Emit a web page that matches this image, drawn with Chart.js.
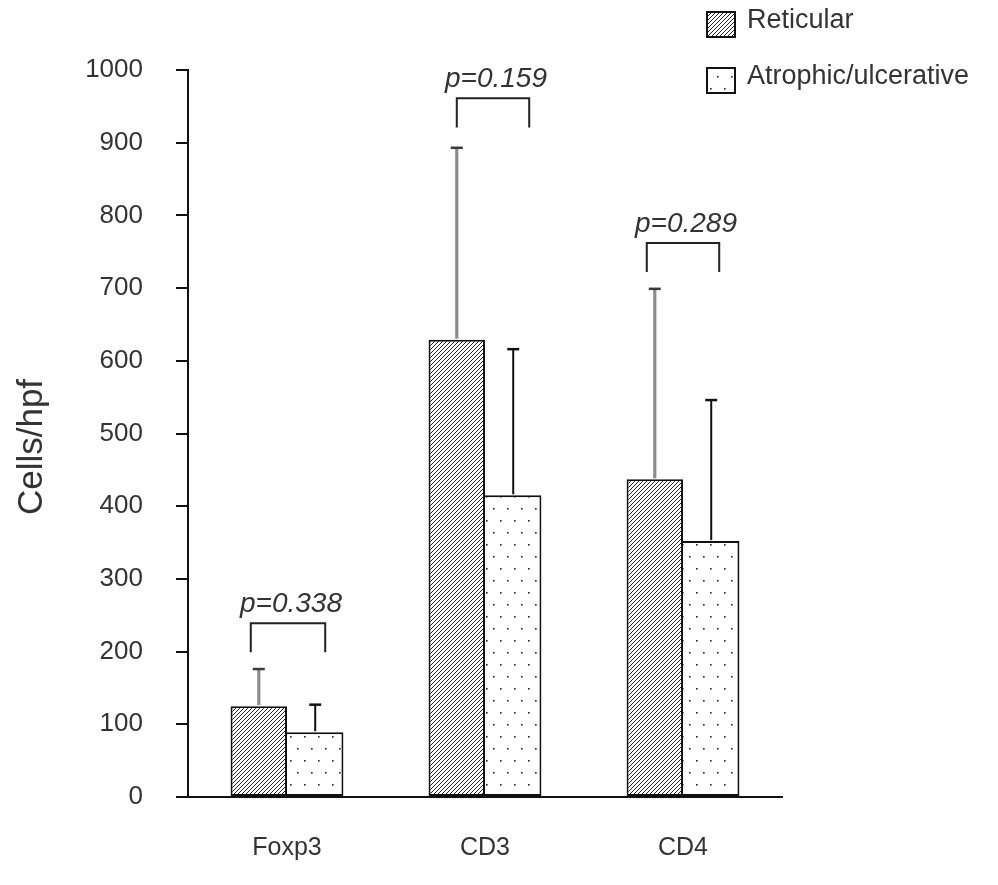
<!DOCTYPE html>
<html>
<head>
<meta charset="utf-8">
<script src="https://cdn.jsdelivr.net/npm/chart.js@4.4.1/dist/chart.umd.min.js"></script>
<style>
  html, body { margin: 0; padding: 0; background: #ffffff; }
  #wrap { width: 998px; height: 885px; position: relative; }
</style>
</head>
<body>
<div id="wrap"><canvas id="c" width="998" height="885"></canvas></div>
<script>
// ---- data ----
const categories = ['Foxp3', 'CD3', 'CD4'];
const seriesNames = ['Reticular', 'Atrophic/ulcerative'];
const reticularMean = [125, 629, 437];
const reticularSD = [51, 264, 262];
const atrophicMean = [89, 415, 352];
const atrophicSD = [38, 201, 194];
const pValueLabels = ['p=0.338', 'p=0.159', 'p=0.289'];
const bracketLevel = [239, 961, 762];
const bracketDrop = 40;
const yTicks = [0, 100, 200, 300, 400, 500, 600, 700, 800, 900, 1000];
const yTitle = 'Cells/hpf';

// ---- patterns ----
function hatchPattern() {
  const t = document.createElement('canvas');
  t.width = 4; t.height = 4;
  const g = t.getContext('2d');
  g.fillStyle = '#fff'; g.fillRect(0, 0, 4, 4);
  g.strokeStyle = '#222'; g.lineWidth = 1.0;
  g.beginPath();
  g.moveTo(-1, 5); g.lineTo(5, -1);
  g.moveTo(-1, 1); g.lineTo(1, -1);
  g.moveTo(3, 5); g.lineTo(5, 3);
  g.stroke();
  return g.createPattern(t, 'repeat');
}
function dotPattern() {
  const t = document.createElement('canvas');
  t.width = 14; t.height = 24;
  const g = t.getContext('2d');
  g.fillStyle = '#fff'; g.fillRect(0, 0, 14, 24);
  g.fillStyle = '#222';
  g.fillRect(3, 4, 1.6, 1.6);
  g.fillRect(10, 16, 1.6, 1.6);
  return g.createPattern(t, 'repeat');
}
const hatch = hatchPattern();
const dots = dotPattern();

const FONT = "'Liberation Sans', Arial, sans-serif";

// ---- plugins ----
const errorBars = {
  id: 'errorBars',
  afterDatasetsDraw(chart) {
    const ctx = chart.ctx;
    const y = chart.scales.y;
    const sds = [reticularSD, atrophicSD];
    const styles = [
      { line: '#8c8c8c', cap: '#3a3a3a', w: 3.2 },
      { line: '#111111', cap: '#111111', w: 2 }
    ];
    ctx.save();
    for (let d = 0; d < 2; d++) {
      const meta = chart.getDatasetMeta(d);
      meta.data.forEach((bar, i) => {
        const v = chart.data.datasets[d].data[i];
        const top = y.getPixelForValue(v + sds[d][i]);
        const st = styles[d];
        ctx.strokeStyle = st.line; ctx.lineWidth = st.w;
        ctx.beginPath(); ctx.moveTo(bar.x, bar.y - 1); ctx.lineTo(bar.x, top); ctx.stroke();
        ctx.strokeStyle = st.cap; ctx.lineWidth = 2.5;
        ctx.beginPath(); ctx.moveTo(bar.x - 6, top); ctx.lineTo(bar.x + 6, top); ctx.stroke();
      });
    }
    ctx.restore();
  }
};

const brackets = {
  id: 'brackets',
  afterDatasetsDraw(chart, args, opts) {
    const ctx = chart.ctx;
    const y = chart.scales.y;
    const m0 = chart.getDatasetMeta(0), m1 = chart.getDatasetMeta(1);
    ctx.save();
    pValueLabels.forEach((lab, i) => {
      const xl = m0.data[i].x + opts.offL[i];
      const xr = m1.data[i].x + opts.offR[i];
      const yt = y.getPixelForValue(bracketLevel[i]);
      const yb = y.getPixelForValue(bracketLevel[i] - bracketDrop);
      ctx.strokeStyle = '#222'; ctx.lineWidth = 2;
      ctx.beginPath();
      ctx.moveTo(xl, yb); ctx.lineTo(xl, yt); ctx.lineTo(xr, yt); ctx.lineTo(xr, yb);
      ctx.stroke();
      ctx.fillStyle = '#333';
      ctx.font = 'italic 28px ' + FONT;
      ctx.textAlign = 'center'; ctx.textBaseline = 'alphabetic';
      ctx.fillText(lab, (xl + xr) / 2 + 3, yt - 11);
    });
    ctx.restore();
  }
};

const legendBox = {
  id: 'legendBox',
  afterDraw(chart) {
    const ctx = chart.ctx;
    ctx.save();
    const rows = [{ y: 12, fill: hatch }, { y: 68, fill: dots }];
    chart.data.datasets.forEach((ds, i) => {
      const r = rows[i];
      ctx.fillStyle = r.fill;
      ctx.fillRect(707, r.y, 28, 25);
      ctx.strokeStyle = '#111'; ctx.lineWidth = 2;
      ctx.strokeRect(707, r.y, 28, 25);
      ctx.fillStyle = '#333';
      ctx.font = '27px ' + FONT;
      ctx.textAlign = 'left'; ctx.textBaseline = 'middle';
      ctx.fillText(ds.label, 747, r.y + 9);
    });
    ctx.restore();
  }
};

const yTitlePlugin = {
  id: 'yTitlePlugin',
  afterDraw(chart) {
    const ctx = chart.ctx;
    ctx.save();
    ctx.translate(32, 447);
    ctx.rotate(-Math.PI / 2);
    ctx.fillStyle = '#333';
    ctx.font = '35px ' + FONT;
    ctx.textAlign = 'center'; ctx.textBaseline = 'middle';
    ctx.fillText(yTitle, 0, 0);
    ctx.restore();
  }
};

new Chart(document.getElementById('c'), {
  type: 'bar',
  data: {
    labels: categories,
    datasets: [
      { label: seriesNames[0], data: reticularMean, backgroundColor: hatch,
        borderColor: '#111', borderWidth: 2, borderSkipped: false,
        categoryPercentage: 0.57, barPercentage: 1.0 },
      { label: seriesNames[1], data: atrophicMean, backgroundColor: dots,
        borderColor: '#111', borderWidth: { top: 2, right: 2, bottom: 2, left: 0 }, borderSkipped: false,
        categoryPercentage: 0.57, barPercentage: 1.0 }
    ]
  },
  options: {
    responsive: false,
    animation: false,
    devicePixelRatio: 1,
    layout: { padding: { left: 0, right: 216, top: 70, bottom: 0 } },
    plugins: {
      legend: { display: false },
      tooltip: { enabled: false },
      brackets: { offL: [-8, 0, -8], offR: [10, 16, 8] }
    },
    scales: {
      x: {
        grid: { display: false, drawTicks: false },
        border: { display: true, color: '#111', width: 2 },
        ticks: { color: '#333', font: { family: FONT, size: 25 }, padding: 36 },
        afterFit(s) { s.height = 88; }
      },
      y: {
        min: 0, max: 1000,
        afterBuildTicks(s) { s.ticks = yTicks.map(v => ({ value: v })); },
        grid: { display: true, drawOnChartArea: false, drawTicks: true, tickLength: 12, color: '#111', lineWidth: 2 },
        border: { display: true, color: '#111', width: 2 },
        ticks: { color: '#333', font: { family: FONT, size: 26 }, padding: 33,
                 callback: (v) => String(v) },
        afterFit(s) { s.width = 188; }
      }
    }
  },
  plugins: [errorBars, brackets, legendBox, yTitlePlugin]
});
</script>
</body>
</html>
